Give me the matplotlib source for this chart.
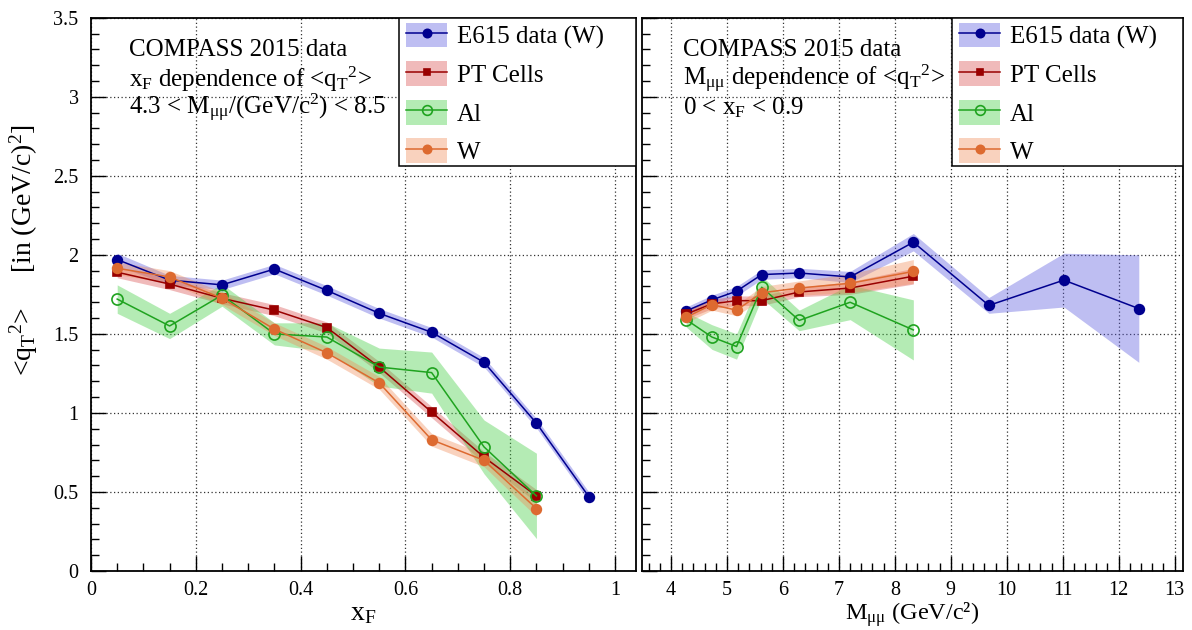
import matplotlib
matplotlib.use("Agg")
import matplotlib.pyplot as plt
from matplotlib.patches import Patch, Rectangle
from matplotlib.lines import Line2D
from matplotlib.ticker import MultipleLocator
import numpy as np

plt.rcParams['font.family'] = ['Liberation Serif', 'DejaVu Serif']
plt.rcParams['mathtext.fontset'] = 'custom'
plt.rcParams['mathtext.rm'] = 'Liberation Serif'
plt.rcParams['mathtext.it'] = 'Liberation Serif:italic'
plt.rcParams['mathtext.bf'] = 'Liberation Serif:bold'

# ---------------- data: x_F dependence ----------------
xf_e615 = [0.05, 0.15, 0.25, 0.35, 0.45, 0.55, 0.65, 0.75, 0.85, 0.95]
qt_xf_e615 = [1.97, 1.84, 1.81, 1.91, 1.775, 1.63, 1.51, 1.32, 0.935, 0.47]
err_xf_e615 = [0.04, 0.03, 0.03, 0.03, 0.03, 0.03, 0.03, 0.03, 0.03, 0.03]

xf = [0.05, 0.15, 0.25, 0.35, 0.45, 0.55, 0.65, 0.75, 0.85]
qt_xf_pt = [1.89, 1.815, 1.725, 1.65, 1.54, 1.29, 1.005, 0.72, 0.475]
err_xf_pt = [0.035, 0.035, 0.035, 0.035, 0.035, 0.035, 0.035, 0.035, 0.04]
qt_xf_al = [1.72, 1.55, 1.745, 1.50, 1.48, 1.29, 1.255, 0.785, 0.475]
err_xf_al = [0.09, 0.08, 0.07, 0.07, 0.09, 0.12, 0.13, 0.17, 0.27]
qt_xf_w = [1.915, 1.86, 1.725, 1.53, 1.38, 1.19, 0.83, 0.70, 0.395]
err_xf_w = [0.04, 0.04, 0.04, 0.04, 0.04, 0.04, 0.04, 0.04, 0.05]

# ---------------- data: M_mumu dependence ----------------
m_e615 = [4.27, 4.73, 5.17, 5.62, 6.29, 7.20, 8.33, 9.68, 11.02, 12.36]
qt_m_e615 = [1.645, 1.715, 1.77, 1.875, 1.885, 1.86, 2.08, 1.68, 1.84, 1.66]
err_m_e615 = [0.025, 0.03, 0.03, 0.03, 0.03, 0.035, 0.055, 0.05, 0.17, 0.34]

m = [4.27, 4.73, 5.17, 5.62, 6.29, 7.20, 8.33]
qt_m_pt = [1.625, 1.69, 1.71, 1.71, 1.765, 1.79, 1.865]
err_m_pt = [0.03, 0.03, 0.03, 0.03, 0.03, 0.04, 0.05]
qt_m_al = [1.59, 1.48, 1.42, 1.795, 1.585, 1.70, 1.525]
err_m_al = [0.047, 0.078, 0.08, 0.07, 0.065, 0.11, 0.19]
qt_m_w = [1.605, 1.685, 1.65, 1.76, 1.79, 1.82, 1.895]
err_m_w = [0.035, 0.035, 0.035, 0.04, 0.045, 0.06, 0.075]

labels = ["E615 data (W)", "PT Cells", "Al", "W"]

# ---------------- styles ----------------
styles = {
    "E615 data (W)": dict(color='#00008f', band='#5555dd', marker='o', mfc='#00008f', ms=7),
    "PT Cells": dict(color='#990000', band='#d84a4a', marker='s', mfc='#990000', ms=6),
    "Al": dict(color='#1fa31f', band='#3ccc3c', marker='o', mfc='none', ms=8),
    "W": dict(color='#dd6a30', band='#f08a55', marker='o', mfc='#dd6a30', ms=7),
}
band_alpha = 0.38

fig = plt.figure(figsize=(11.92, 6.30), dpi=100)
W, H = 1192.0, 630.0
ax1 = fig.add_axes([91 / W, 1 - 571 / H, (636 - 91) / W, (571 - 17.7) / H])
ax2 = fig.add_axes([642 / W, 1 - 571 / H, (1183 - 642) / W, (571 - 17.7) / H])


def draw(ax, x, y, e, name):
    st = styles[name]
    x = np.asarray(x); y = np.asarray(y); e = np.asarray(e)
    ax.fill_between(x, y - e, y + e, color=st['band'], alpha=band_alpha, lw=0, zorder=2)
    ax.plot(x, y, color=st['color'], lw=1.1, marker=st['marker'], ms=st['ms'],
            mfc=st['mfc'], mec=st['color'], mew=1.2, zorder=3)


draw(ax1, xf_e615, qt_xf_e615, err_xf_e615, labels[0])
draw(ax1, xf, qt_xf_pt, err_xf_pt, labels[1])
draw(ax1, xf, qt_xf_al, err_xf_al, labels[2])
draw(ax1, xf, qt_xf_w, err_xf_w, labels[3])

draw(ax2, m_e615, qt_m_e615, err_m_e615, labels[0])
draw(ax2, m, qt_m_pt, err_m_pt, labels[1])
draw(ax2, m, qt_m_al, err_m_al, labels[2])
draw(ax2, m, qt_m_w, err_m_w, labels[3])

ax1.set_xlim(0, 1.04)
ax2.set_xlim(3.48, 13.15)
for ax in (ax1, ax2):
    ax.set_ylim(0, 3.5)
    ax.yaxis.set_major_locator(MultipleLocator(0.5))
    ax.yaxis.set_minor_locator(MultipleLocator(0.1))
    ax.tick_params(which='both', direction='in', top=False, right=False, labelsize=14.5)
    ax.tick_params(which='major', length=11, width=1)
    ax.tick_params(which='minor', length=6, width=1)
    ax.tick_params(axis='x', pad=7)
    ax.tick_params(axis='y', pad=9)
    ax.grid(True, which='major', linestyle=(0, (1, 2)), color='#333333', lw=0.9)
    ax.set_axisbelow(True)
    for s in ax.spines.values():
        s.set_linewidth(1.3)

ax1.xaxis.set_major_locator(MultipleLocator(0.2))
ax1.xaxis.set_minor_locator(MultipleLocator(0.05))
ax1.set_xticks([0, 0.2, 0.4, 0.6, 0.8, 1.0])
ax1.set_xticklabels(['0', '0.2', '0.4', '0.6', '0.8', '1'])
ax1.set_yticks([0, 0.5, 1, 1.5, 2, 2.5, 3, 3.5])
ax1.set_yticklabels(['0', '0.5', '1', '1.5', '2', '2.5', '3', '3.5'])
ax2.xaxis.set_major_locator(MultipleLocator(1))
ax2.xaxis.set_minor_locator(MultipleLocator(0.2))
ax2.set_xticks(range(4, 14))
ax2.tick_params(axis='y', labelleft=False)

ax1.set_xlabel(r"x$_{\mathrm{F}}$", fontsize=20, labelpad=1)
ax2.set_xlabel(r"M$_{\mathrm{μμ}}$ (GeV/c²)", fontsize=17.5, labelpad=0)
fig.text(24 / W, 1 - 250 / H, r"<q$_{\mathrm{T}}$$^{2}$>     [in (GeV/c)$^{2}$]",
         rotation=90, ha='center', va='center', fontsize=20)

# annotations
txt_kw = dict(fontsize=18, va='center', ha='left')
ax1.text(0.070, 0.9416, "COMPASS 2015 data", transform=ax1.transAxes, **txt_kw)
ax1.text(0.070, 0.889, r"x$_{\mathrm{F}}$ dependence of <q$_{\mathrm{T}}$$^{2}$>",
         transform=ax1.transAxes, **txt_kw)
ax1.text(0.070, 0.8368, r"4.3 < M$_{\mathrm{μμ}}$/(GeV/c$^{2}$) < 8.5",
         transform=ax1.transAxes, **txt_kw)
ax2.text(0.076, 0.9416, "COMPASS 2015 data", transform=ax2.transAxes, **txt_kw)
ax2.text(0.076, 0.889, r"M$_{\mathrm{μμ}}$ dependence of <q$_{\mathrm{T}}$$^{2}$>",
         transform=ax2.transAxes, **txt_kw)
ax2.text(0.076, 0.8368, r"0 < x$_{\mathrm{F}}$ < 0.9", transform=ax2.transAxes, **txt_kw)


# legends
def handles():
    hs = []
    for name in labels:
        st = styles[name]
        p = Patch(facecolor=st['band'], alpha=band_alpha, lw=0)
        l = Line2D([], [], color=st['color'], lw=1.1, marker=st['marker'], ms=st['ms'] - 1,
                   mfc=st['mfc'], mec=st['color'], mew=1.2)
        hs.append((p, l))
    return hs


for ax, x0 in ((ax1, 0.565), (ax2, 0.573)):
    y0 = (571 - 166) / 553.3
    ax.add_patch(Rectangle((x0, y0), 1 - x0, 1 - y0, transform=ax.transAxes,
                           facecolor='white', edgecolor='black', lw=1.1, zorder=5))
    leg = ax.legend(handles(), labels, loc='upper left', bbox_to_anchor=(x0 + 0.006, 0.998),
                    frameon=False, fontsize=18, handlelength=1.65, handleheight=1.15,
                    handletextpad=0.4, labelspacing=0.5, borderpad=0.15, borderaxespad=0)
    leg.set_zorder(6)

fig.savefig("out.png", dpi=100)
